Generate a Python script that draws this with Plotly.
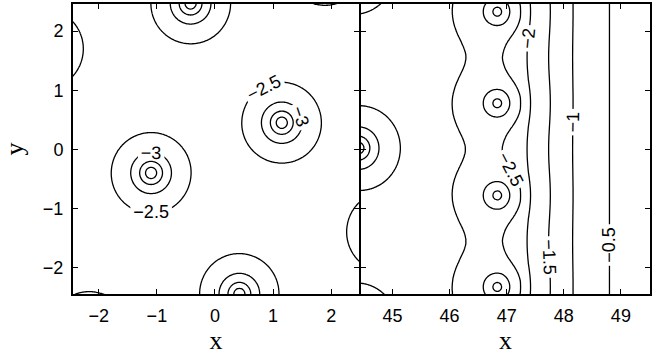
import numpy as np
import plotly.graph_objects as go

# ---------------- data ----------------
bulk_level = -2.25        # bulk background level
bulk_depth = 2.4          # depth of a bulk well
bulk_decay = 0.30         # decay length of a bulk well

# left panel: bulk well centres (some sit just outside the frame)
left_wells_x = [-1.10, 1.15, 0.42, -0.42, -2.95, 2.95, 1.90, -2.15, -3.45]
left_wells_y = [-0.40, 0.45, -2.45, 2.47, 1.70, -1.40, 3.12, -3.10, -1.27]

# right panel: bulk wells at the left edge
edge_wells_x = [44.40, 44.30, 44.35]
edge_wells_y = [0.02, 3.00, -2.98]

# right panel: column of interface wells
iface_wells_x = [46.84, 46.84, 46.84, 46.84, 46.84, 46.84]
iface_wells_y = [3.88, 2.33, 0.78, -0.78, -2.33, -3.88]
iface_depth = 0.90
iface_width = 0.17
iface_broad_depth = 0.25
iface_broad_width = 0.40
iface_broad_stretch_x = 1.3

# right panel: background profile across the interface
profile_x = [43.0, 45.4, 45.8, 46.06, 46.29, 46.6, 46.93, 47.24, 47.37, 47.72, 48.15, 48.8, 49.7]
profile_z = [-2.25, -2.30, -2.37, -2.419, -2.456, -2.47, -2.425, -2.27, -1.92, -1.50, -1.00, -0.50, 0.08]

# contour levels
levels_start, levels_end, levels_step = -4.0, -0.5, 0.5

x_ticks_left = [-2, -1, 0, 1, 2]
x_ticks_right = [45, 46, 47, 48, 49]
y_ticks = [-2, -1, 0, 1, 2]

# ---------------- fields ----------------
xl = np.arange(-2.52, 2.56, 0.02)
yl = np.arange(-2.52, 2.54, 0.02)
XL, YL = np.meshgrid(xl, yl)
ZL = np.full_like(XL, bulk_level)
for wx, wy in zip(left_wells_x, left_wells_y):
    ZL -= bulk_depth * np.exp(-np.hypot(XL - wx, YL - wy) / bulk_decay)

xr = np.arange(44.38, 49.60, 0.02)
yr = yl
XR, YR = np.meshgrid(xr, yr)
ZR = np.interp(XR, profile_x, profile_z)
for wx, wy in zip(edge_wells_x, edge_wells_y):
    ZR -= bulk_depth * np.exp(-np.hypot(XR - wx, YR - wy) / bulk_decay)
for wx, wy in zip(iface_wells_x, iface_wells_y):
    r2 = (XR - wx) ** 2 + (YR - wy) ** 2
    ZR -= iface_depth * np.exp(-r2 / (2 * iface_width ** 2))
    r2b = ((XR - wx) / iface_broad_stretch_x) ** 2 + (YR - wy) ** 2
    ZR -= iface_broad_depth * np.exp(-r2b / (2 * iface_broad_width ** 2))

ZL = np.round(ZL, 3)
ZR = np.round(ZR, 3)

black = [[0, "black"], [1, "black"]]
lab_font = dict(family="Liberation Sans, Arial, sans-serif", size=18, color="black")
main_contours = dict(coloring="lines", showlabels=True, labelfont=lab_font,
                     start=levels_start, end=levels_end, size=levels_step)

fig = go.Figure()
fig.add_trace(go.Contour(x=xl, y=yl, z=ZL, contours=main_contours, colorscale=black,
                         showscale=False, line=dict(width=1.3), hoverinfo="skip",
                         xaxis="x", yaxis="y"))
fig.add_trace(go.Contour(x=xr, y=yr, z=ZR, contours=main_contours, colorscale=black,
                         showscale=False, line=dict(width=1.3), hoverinfo="skip",
                         xaxis="x2", yaxis="y2"))

tick_font = dict(family="Liberation Sans, Arial, sans-serif", size=18, color="black")
title_font = dict(family="Liberation Serif, Times New Roman, serif", size=26, color="black")
ax_common = dict(showline=True, linecolor="black", linewidth=2, mirror="ticks",
                 ticks="inside", ticklen=5, tickwidth=1, tickcolor="black",
                 showgrid=False, zeroline=False, tickfont=tick_font)

W, H = 659, 358
ydom = [64 / H, 354 / H]
fig.update_layout(
    width=W, height=H, margin=dict(l=0, r=0, t=0, b=0),
    paper_bgcolor="white", plot_bgcolor="white", showlegend=False,
    xaxis=dict(domain=[73 / W, 359 / W], range=[-2.444, 2.479], tickvals=x_ticks_left,
               anchor="y", ticklabelstandoff=4,
               title=dict(text="x", font=title_font, standoff=6), **ax_common),
    yaxis=dict(domain=ydom, range=[-2.45, 2.46], tickvals=y_ticks, anchor="x",
               ticklabelstandoff=4,
               title=dict(text="y", font=title_font, standoff=14), **ax_common),
    xaxis2=dict(domain=[361 / W, 650 / W], range=[44.449, 49.51], tickvals=x_ticks_right,
                anchor="y2", ticklabelstandoff=4,
                title=dict(text="x", font=title_font, standoff=6), **ax_common),
    yaxis2=dict(domain=ydom, range=[-2.45, 2.46], tickvals=y_ticks, anchor="x2",
                showticklabels=False, **ax_common),
)

fig.write_html("out.html")
